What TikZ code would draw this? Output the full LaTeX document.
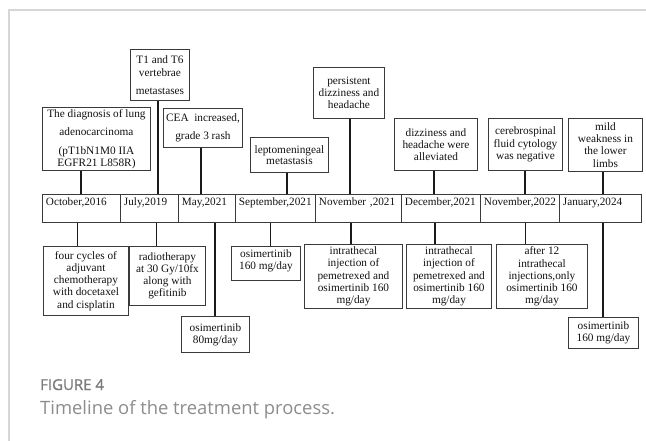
\documentclass[tikz,border=0pt]{standalone}
\usepackage{fontspec}
\setmainfont{Liberation Serif}
\newfontfamily\capfont{Open Sans}
\newfontfamily\capboldfont{Open Sans}[FakeBold=0.9]
\definecolor{boxc}{HTML}{3A3A3A}
\definecolor{linec}{HTML}{1A1A1A}
\definecolor{txtc}{HTML}{111111}
\definecolor{framec}{HTML}{D6D6D6}
\definecolor{capc}{HTML}{8C8C8C}
\definecolor{capbc}{HTML}{7A7A7A}
\tikzset{
  evbox/.style={draw=boxc, line width=0.9pt, inner sep=0pt, align=center,
    font=\fontsize{11.3}{12.2}\selectfont, text=txtc, anchor=north west},
  cell/.style={draw=boxc, line width=0.9pt, anchor=north west, inner xsep=3.5pt,
    inner ysep=0pt, text height=11pt, text depth=17pt, align=left,
    font=\fontsize{11.2}{12}\selectfont, text=txtc},
  conn/.style={draw=linec, line width=1.4pt},
  frameline/.style={draw=framec, line width=1.5pt},
  capsmall/.style={anchor=base west, inner sep=0pt, text=capbc,
    font=\capboldfont\fontsize{15}{18}\selectfont},
  capbig/.style={anchor=base west, inner sep=0pt, text=capc,
    font=\capfont\fontsize{18.4}{22}\selectfont},
}
\begin{document}
\begin{tikzpicture}[x=1pt, y=-1pt]
\useasboundingbox (0,0) rectangle (646,441);
% frame
\draw[frameline] (9,441) -- (9,10) -- (646,10);

% timeline cells
\node[cell, text width=71pt] (c1) at (42,194) {October,2016};
\node[cell, text width=51pt] (c2) at (120,194) {July,2019};
\node[cell, text width=50pt] (c3) at (178,194) {May,2021};
\node[cell, text width=73pt] (c4) at (235,194) {September,2021};
\node[cell, text width=79pt] (c5) at (315,194) {November ,2021};
\node[cell, text width=72pt] (c6) at (401,194) {December,2021};
\node[cell, text width=72pt] (c7) at (480,194) {November,2022};
\node[cell, text width=75pt] (c8) at (559,194) {January,2024};

% top boxes
\node[evbox, minimum width=108pt, minimum height=63pt] (t1) at (42,107)
  {The diagnosis of lung\\[6pt]adenocarcinoma\\[7pt](pT1bN1M0 IIA\\[-1pt]EGFR21 L858R)};
\node[evbox, minimum width=59pt, minimum height=51pt] (t2) at (130,49)
  {T1 and T6\\[0.5pt]vertebrae\\[5.5pt]metastases};
\node[evbox, minimum width=79pt, minimum height=39pt] (t3) at (163,108)
  {CEA\ \ increased,\\[6pt]grade 3 rash};
\node[evbox, minimum width=78pt, minimum height=35pt] (t4) at (250,137)
  {leptomeningeal\\[-1pt]metastasis};
\node[evbox, minimum width=71pt, minimum height=51pt] (t5) at (313,67)
  {persistent\\dizziness and\\headache};
\node[evbox, minimum width=83pt, minimum height=52pt] (t6) at (394,118)
  {dizziness and\\headache were\\alleviated};
\node[evbox, minimum width=74pt, minimum height=52pt] (t7) at (488,118)
  {cerebrospinal\\fluid cytology\\was negative};
\node[evbox, minimum width=74pt, minimum height=53pt] (t8) at (568,118)
  {mild\\weakness in\\the lower\\limbs};

% bottom boxes
\node[evbox, minimum width=85pt, minimum height=69pt] (b1) at (43,246)
  {four cycles of\\adjuvant\\chemotherapy\\with docetaxel\\and cisplatin};
\node[evbox, minimum width=76pt, minimum height=59pt] (b2) at (129,246)
  {radiotherapy\\at 30 Gy/10fx\\along with\\gefitinib};
\node[evbox, minimum width=68pt, minimum height=36pt] (b3) at (181,316)
  {osimertinib\\80mg/day};
\node[evbox, minimum width=69pt, minimum height=34pt] (b4) at (231,246) {};
\node[anchor=north, inner sep=0pt, align=center, text=txtc,
  font=\fontsize{11.3}{12.2}\selectfont] (b4t) at ([yshift=-3pt]b4.north)
  {osimertinib\\160 mg/day};
\node[evbox, minimum width=98pt, minimum height=64pt] (b5) at (304,244)
  {intrathecal\\injection of\\pemetrexed and\\osimertinib 160\\mg/day};
\node[evbox, minimum width=85pt, minimum height=64pt] (b6) at (406,244)
  {intrathecal\\injection of\\pemetrexed and\\osimertinib 160\\mg/day};
\node[evbox, minimum width=91pt, minimum height=64pt] (b7) at (496,244)
  {after 12\\intrathecal\\injections,only\\osimertinib 160\\mg/day};
\node[evbox, minimum width=70pt, minimum height=31pt] (b8) at (568,317)
  {osimertinib\\160 mg/day};

% connector x positions
\coordinate (ua) at (81,0);
\coordinate (ub) at (158,0);
\coordinate (uc) at (201,0);
\coordinate (ud) at (287,0);
\coordinate (ue) at (350,0);
\coordinate (uf) at (434,0);
\coordinate (ug) at (525,0);
\coordinate (uh) at (603,0);
\coordinate (la) at (77.7,0);
\coordinate (lb) at (156.7,0);
\coordinate (lc) at (215,0);
\coordinate (ld) at (270.7,0);
\coordinate (le) at (351,0);
\coordinate (lf) at (435,0);
\coordinate (lg) at (525.3,0);
\coordinate (lh) at (603,0);

% top connectors
\draw[conn] (t1.south -| ua) -- (c1.north -| ua);
\draw[conn] (t2.south -| ub) -- (c2.north -| ub);
\draw[conn] (t3.south -| uc) -- (c3.north -| uc);
\draw[conn] (t4.south -| ud) -- (c4.north -| ud);
\draw[conn] (t5.south -| ue) -- (c5.north -| ue);
\draw[conn] (t6.south -| uf) -- (c6.north -| uf);
\draw[conn] (t7.south -| ug) -- (c7.north -| ug);
\draw[conn] (t8.south -| uh) -- (c8.north -| uh);
% bottom connectors
\draw[conn] (c1.south -| la) -- (b1.north -| la);
\draw[conn] (c2.south -| lb) -- (b2.north -| lb);
\draw[conn] (c3.south -| lc) -- (b3.north -| lc);
\draw[conn] (c4.south -| ld) -- (b4.north -| ld);
\draw[conn] (c5.south -| le) -- (b5.north -| le);
\draw[conn] (c6.south -| lf) -- (b6.north -| lf);
\draw[conn] (c7.south -| lg) -- (b7.north -| lg);
\draw[conn] (c8.south -| lh) -- (b8.north -| lh);

% caption
\node[capsmall] (fig) at (40,390) {FIGURE 4};
\node[capbig] (cap) at (40,414.3) {Timeline of the treatment process.};
\end{tikzpicture}
\end{document}
